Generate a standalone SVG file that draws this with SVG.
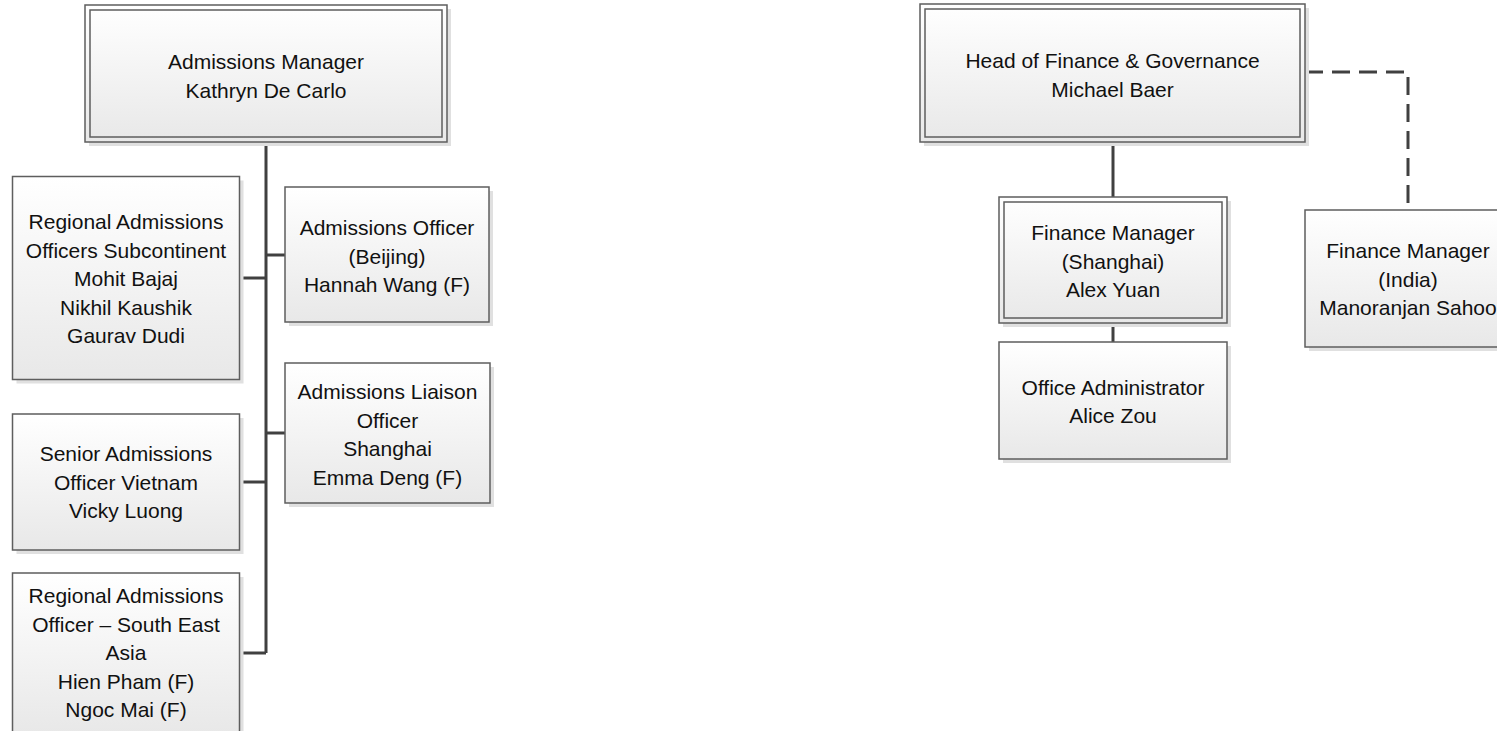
<svg xmlns="http://www.w3.org/2000/svg" width="1497" height="731" viewBox="0 0 1497 731">
  <defs>
    <linearGradient id="g" x1="0" y1="0" x2="0" y2="1">
      <stop offset="0" stop-color="#ffffff"/>
      <stop offset="1" stop-color="#e8e8e8"/>
    </linearGradient>
  </defs>
  <style>
    .sh { fill: #e0e0e0; stroke: none; }
    .bx { fill: url(#g); stroke: #5e5e5e; stroke-width: 1.5; }
    .in { fill: none; stroke: #5e5e5e; stroke-width: 1.5; }
    .t { font-family: "Liberation Sans", Arial, sans-serif; font-size: 21px; fill: #111; text-anchor: middle; dominant-baseline: central; }
    .c { fill: none; stroke: #404040; stroke-width: 3; }
    .d { fill: none; stroke: #404040; stroke-width: 3; stroke-dasharray: 18 9; }
  </style>
  <rect width="1497" height="731" fill="#ffffff"/>

  <g id="connectors">
    <path class="c" d="M266,142 V653"/>
    <path class="c" d="M240,278 H266"/>
    <path class="c" d="M266,255 H285"/>
    <path class="c" d="M266,433 H285"/>
    <path class="c" d="M240,482 H266"/>
    <path class="c" d="M240,653 H266"/>
    <path class="c" d="M1113,142 V197"/>
    <path class="c" d="M1113,323 V342"/>
    <path class="d" d="M1305,72 H1408 V210"/>
  </g>

  <g id="admissions-manager">
    <rect class="sh" x="89" y="9" width="362" height="137"/>
    <rect class="bx" x="85" y="5" width="362" height="137"/>
    <rect class="in" x="90" y="10" width="352" height="127"/>
    <text class="t"><tspan x="266" y="61">Admissions Manager</tspan><tspan x="266" y="89.5">Kathryn De Carlo</tspan></text>
  </g>

  <g id="regional-subcontinent">
    <rect class="sh" x="16.5" y="180.5" width="227" height="203"/>
    <rect class="bx" x="12.5" y="176.5" width="227" height="203"/>
    <text class="t"><tspan x="126" y="221">Regional Admissions</tspan><tspan x="126" y="249.5">Officers Subcontinent</tspan><tspan x="126" y="278">Mohit Bajaj</tspan><tspan x="126" y="306.5">Nikhil Kaushik</tspan><tspan x="126" y="335">Gaurav Dudi</tspan></text>
  </g>

  <g id="officer-beijing">
    <rect class="sh" x="289" y="191" width="204" height="135"/>
    <rect class="bx" x="285" y="187" width="204" height="135"/>
    <text class="t"><tspan x="387" y="227">Admissions Officer</tspan><tspan x="387" y="255.5">(Beijing)</tspan><tspan x="387" y="284">Hannah Wang (F)</tspan></text>
  </g>

  <g id="liaison-shanghai">
    <rect class="sh" x="289" y="367" width="205" height="140"/>
    <rect class="bx" x="285" y="363" width="205" height="140"/>
    <text class="t"><tspan x="387.5" y="391">Admissions Liaison</tspan><tspan x="387.5" y="419.5">Officer</tspan><tspan x="387.5" y="448">Shanghai</tspan><tspan x="387.5" y="476.5">Emma Deng (F)</tspan></text>
  </g>

  <g id="senior-vietnam">
    <rect class="sh" x="16.5" y="418" width="227" height="136"/>
    <rect class="bx" x="12.5" y="414" width="227" height="136"/>
    <text class="t"><tspan x="126" y="453">Senior Admissions</tspan><tspan x="126" y="481.5">Officer Vietnam</tspan><tspan x="126" y="510">Vicky Luong</tspan></text>
  </g>

  <g id="regional-sea">
    <rect class="sh" x="16.5" y="577" width="227" height="160"/>
    <rect class="bx" x="12.5" y="573" width="227" height="160"/>
    <text class="t"><tspan x="126" y="595">Regional Admissions</tspan><tspan x="126" y="623.5">Officer – South East</tspan><tspan x="126" y="652">Asia</tspan><tspan x="126" y="680.5">Hien Pham (F)</tspan><tspan x="126" y="709">Ngoc Mai (F)</tspan></text>
  </g>

  <g id="head-finance">
    <rect class="sh" x="924" y="8" width="385" height="138"/>
    <rect class="bx" x="920" y="4" width="385" height="138"/>
    <rect class="in" x="925" y="9" width="375" height="128"/>
    <text class="t"><tspan x="1112.5" y="60">Head of Finance &amp; Governance</tspan><tspan x="1112.5" y="88.5">Michael Baer</tspan></text>
  </g>

  <g id="finance-shanghai">
    <rect class="sh" x="1003" y="201" width="228" height="126"/>
    <rect class="bx" x="999" y="197" width="228" height="126"/>
    <rect class="in" x="1004" y="202" width="218" height="116"/>
    <text class="t"><tspan x="1113" y="232">Finance Manager</tspan><tspan x="1113" y="260.5">(Shanghai)</tspan><tspan x="1113" y="289">Alex Yuan</tspan></text>
  </g>

  <g id="office-administrator">
    <rect class="sh" x="1003" y="346" width="228" height="117"/>
    <rect class="bx" x="999" y="342" width="228" height="117"/>
    <text class="t"><tspan x="1113" y="386.5">Office Administrator</tspan><tspan x="1113" y="415">Alice Zou</tspan></text>
  </g>

  <g id="finance-india">
    <rect class="sh" x="1309" y="214" width="206" height="137"/>
    <rect class="bx" x="1305" y="210" width="206" height="137"/>
    <text class="t"><tspan x="1408" y="250">Finance Manager</tspan><tspan x="1408" y="278.5">(India)</tspan><tspan x="1408" y="307">Manoranjan Sahoo</tspan></text>
  </g>
</svg>
